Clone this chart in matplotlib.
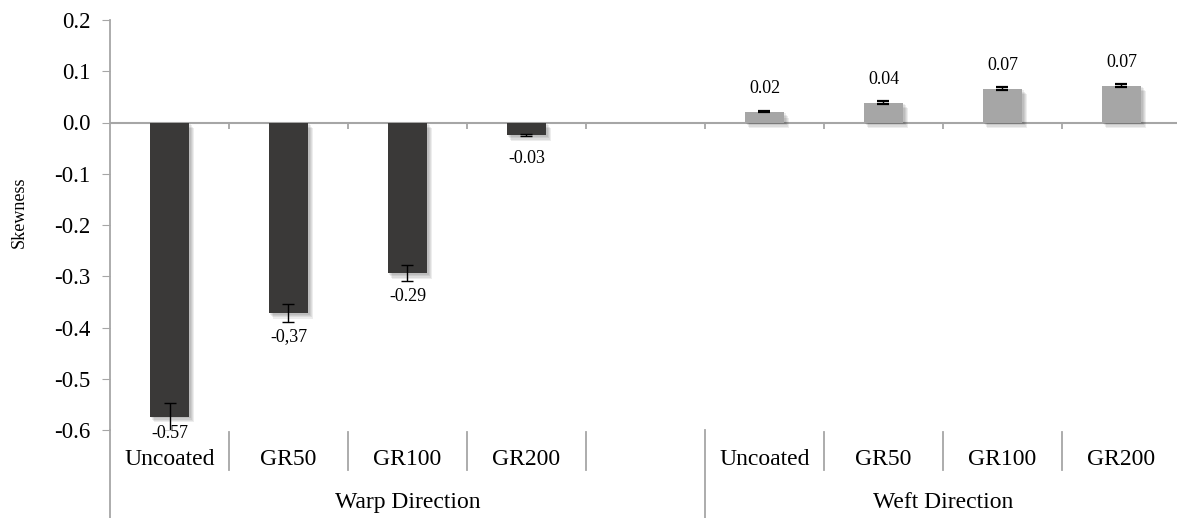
import matplotlib.pyplot as plt
import matplotlib.patheffects as pe

plt.rcParams['font.family'] = ['Liberation Serif', 'DejaVu Serif']

groups = ['Warp Direction', 'Weft Direction']
cats = ['Uncoated', 'GR50', 'GR100', 'GR200']

warp = [-0.574, -0.372, -0.294, -0.025]
warp_err = [0.027, 0.018, 0.015, 0.002]
warp_lbl = ['-0.57', '-0,37', '-0.29', '-0.03']

weft = [0.021, 0.039, 0.066, 0.072]
weft_err = [0.001, 0.002, 0.003, 0.003]
weft_lbl = ['0.02', '0.04', '0.07', '0.07']

yticks = [0.2, 0.1, 0.0, -0.1, -0.2, -0.3, -0.4, -0.5, -0.6]

W, H = 1177, 518
fig = plt.figure(figsize=(W / 100, H / 100), dpi=100)
ax = fig.add_axes([110 / W, 88 / H, 1071 / W, 410 / H])

gray = '#a6a6a6'
# soft-ish shadow built from a few faint offset copies
shadow = [pe.SimplePatchShadow(offset=(o, -o * 1.3), shadow_rgbFace='#000000', alpha=0.07)
          for o in (0.8, 1.6, 2.4, 3.2)] + [pe.Normal()]

# warp occupies slots 0-3, slot 4 is empty, weft occupies slots 5-8
xw = [i + 0.5 for i in range(4)]
xf = [i + 5.5 for i in range(4)]

bw = ax.bar(xw, warp, width=0.336, color='#3a3938', zorder=2)
bf = ax.bar(xf, weft, width=0.336, color='#a6a6a6', zorder=2)
for b in list(bw) + list(bf):
    b.set_path_effects(shadow)

ax.errorbar(xw, warp, yerr=warp_err, fmt='none', ecolor='black', elinewidth=1,
            capsize=4.5, capthick=1, zorder=3)
ax.errorbar(xf, weft, yerr=weft_err, fmt='none', ecolor='black', elinewidth=1,
            capsize=4.5, capthick=1.6, zorder=3)

for x, v, t in zip(xw, warp, warp_lbl):
    ax.text(x, max(v - 0.045, -0.606), t, ha='center', va='center', fontsize=13, zorder=4)
for x, v, t in zip(xf, weft, weft_lbl):
    ax.text(x, v + 0.045, t, ha='center', va='center', fontsize=13, zorder=4)

ax.set_xlim(0, 9)
ax.set_ylim(-0.6, 0.2)
ax.set_yticks(yticks)
ax.set_yticklabels(['%.1f' % v for v in yticks])
ax.tick_params(axis='y', length=6, color=gray, labelsize=16.5, pad=8)
ax.set_xticks([])
for s in ['top', 'right', 'bottom']:
    ax.spines[s].set_visible(False)
ax.spines['left'].set_color(gray)
ax.spines['left'].set_linewidth(1.3)
ax.set_ylabel('Skewness', fontsize=13)
ax.yaxis.set_label_coords(-0.077, 0.53)

# zero line with slot ticks
ax.axhline(0, color=gray, lw=1.5, zorder=1)
ax.vlines(range(1, 9), -0.013, 0, color=gray, lw=1.3, zorder=1)

# two-level category axis below the plot
tr = ax.get_xaxis_transform()
ax.plot([0, 0], [0, -0.215], transform=tr, color=gray, lw=1.3, clip_on=False)
ax.plot([5, 5], [0, -0.215], transform=tr, color=gray, lw=1.3, clip_on=False)
for x in [1, 2, 3, 4, 6, 7, 8]:
    ax.plot([x, x], [-0.005, -0.098], transform=tr, color=gray, lw=1.3, clip_on=False)
for x, c in zip(xw + xf, cats + cats):
    ax.text(x, -0.072, c, transform=tr, ha='center', va='center', fontsize=17)
ax.text(2.5, -0.178, groups[0], transform=tr, ha='center', va='center', fontsize=17)
ax.text(7, -0.178, groups[1], transform=tr, ha='center', va='center', fontsize=17)

fig.savefig('out.png', dpi=100)
